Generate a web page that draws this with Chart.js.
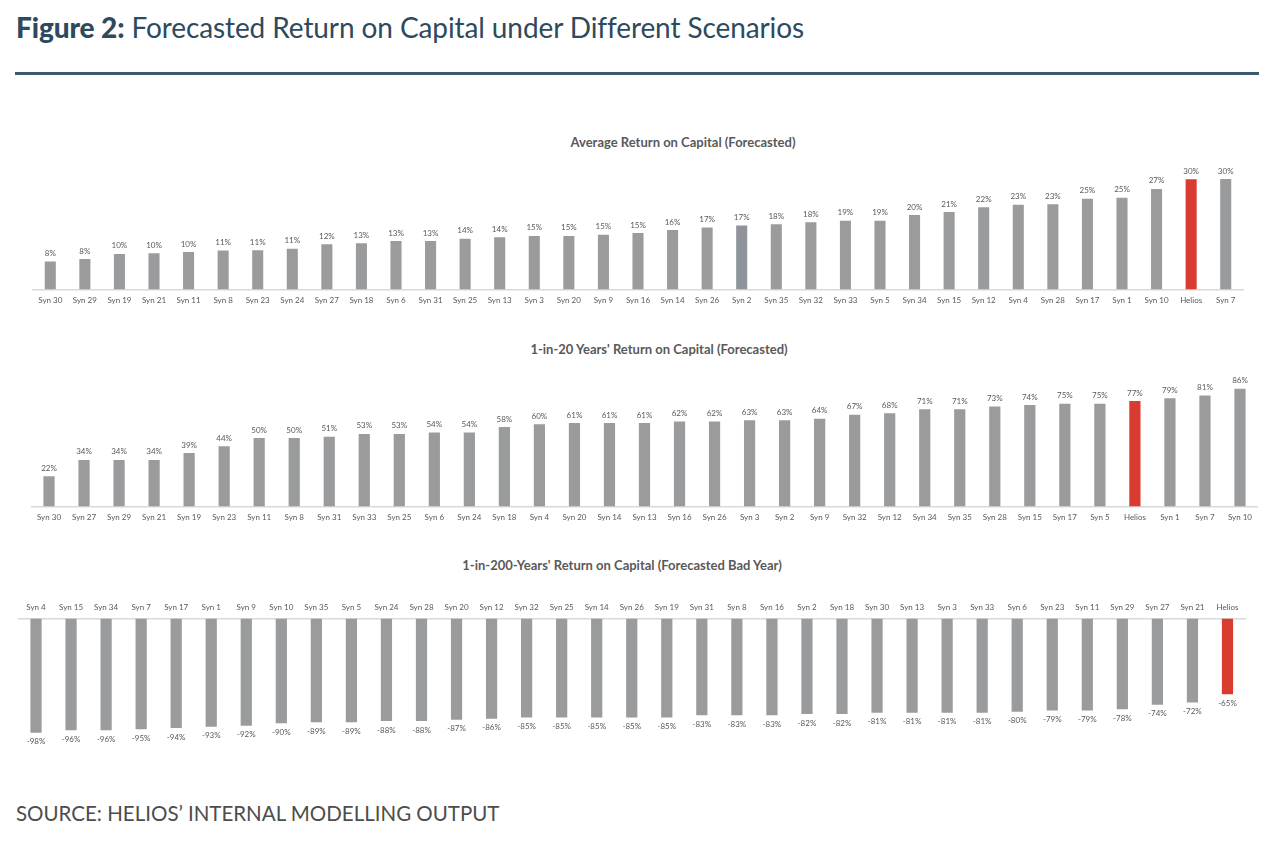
<!DOCTYPE html>
<html><head><meta charset="utf-8">
<script src="https://cdn.jsdelivr.net/npm/chart.js@4/dist/chart.umd.min.js"></script>
<style>
body{margin:0;width:1280px;height:845px;background:#fff;position:relative;overflow:hidden;font-family:Lato,"Open Sans",sans-serif}
#title{position:absolute;left:16px;top:10px;font-size:28px;color:#2d4a5e;white-space:nowrap;letter-spacing:-0.1px}
#title b{font-weight:900}
#rule{position:absolute;left:15px;top:72px;width:1244px;height:3px;background:#3c5a6d}
.ctitle{position:absolute;font-weight:bold;font-size:13px;color:#595959;transform:translate(-50%,-50%);white-space:nowrap}
.box{position:absolute;left:0;width:1280px}
#src{position:absolute;left:16px;top:801px;font-size:20.5px;color:#4d4d4d;white-space:nowrap}
</style></head>
<body>
<div id="title"><b>Figure 2:</b> Forecasted Return on Capital under Different Scenarios</div>
<div id="rule"></div>
<div class="ctitle" style="left:683px;top:142px">Average Return on Capital (Forecasted)</div>
<div class="ctitle" style="left:659px;top:349px">1-in-20 Years' Return on Capital (Forecasted)</div>
<div class="ctitle" style="left:622px;top:565px">1-in-200-Years' Return on Capital (Forecasted Bad Year)</div>
<div class="box" id="b1" style="top:140px;height:175px"><canvas id="c1"></canvas></div>
<div class="box" id="b2" style="top:355px;height:175px"><canvas id="c2"></canvas></div>
<div class="box" id="b3" style="top:580px;height:175px"><canvas id="c3"></canvas></div>
<div id="src">SOURCE: HELIOS’ INTERNAL MODELLING OUTPUT</div>
<script>
const avgLabels = ['Syn 30','Syn 29','Syn 19','Syn 21','Syn 11','Syn 8','Syn 23','Syn 24','Syn 27','Syn 18','Syn 6','Syn 31','Syn 25','Syn 13','Syn 3','Syn 20','Syn 9','Syn 16','Syn 14','Syn 26','Syn 2','Syn 35','Syn 32','Syn 33','Syn 5','Syn 34','Syn 15','Syn 12','Syn 4','Syn 28','Syn 17','Syn 1','Syn 10','Helios','Syn 7'];
const avgValues = [7.6,8.3,9.7,9.9,10.2,10.6,10.7,11.1,12.3,12.6,13.2,13.2,13.8,14.2,14.6,14.6,14.9,15.4,16.2,16.9,17.4,17.8,18.3,18.7,18.7,20.3,21.1,22.4,23.1,23.2,24.7,25.0,27.4,30.0,30.1];

const y20Labels = ['Syn 30','Syn 27','Syn 29','Syn 21','Syn 19','Syn 23','Syn 11','Syn 8','Syn 31','Syn 33','Syn 25','Syn 6','Syn 24','Syn 18','Syn 4','Syn 20','Syn 14','Syn 13','Syn 16','Syn 26','Syn 3','Syn 2','Syn 9','Syn 32','Syn 12','Syn 34','Syn 35','Syn 28','Syn 15','Syn 17','Syn 5','Helios','Syn 1','Syn 7','Syn 10'];
const y20Values = [22,34,34,34,39,44,50,50,51,53,53,54,54,58,60,61,61,61,62,62,63,63,64,67,68,71,71,73,74,75,75,77,79,81,86];

const y200Labels = ['Syn 4','Syn 15','Syn 34','Syn 7','Syn 17','Syn 1','Syn 9','Syn 10','Syn 35','Syn 5','Syn 24','Syn 28','Syn 20','Syn 12','Syn 32','Syn 25','Syn 14','Syn 26','Syn 19','Syn 31','Syn 8','Syn 16','Syn 2','Syn 18','Syn 30','Syn 13','Syn 3','Syn 33','Syn 6','Syn 23','Syn 11','Syn 29','Syn 27','Syn 21','Helios'];
const y200Values = [-98,-96,-96,-95,-94,-93,-92,-90,-89,-89,-88,-88,-87,-86,-85,-85,-85,-85,-85,-83,-83,-83,-82,-82,-81,-81,-81,-81,-80,-79,-79,-78,-74,-72,-65];

const GREY = '#9a9b9d', RED = '#d93b30', TXT = '#595959';
const FONT = 'Lato, "Open Sans", sans-serif';

const valueLabels = {
  id: 'valueLabels',
  afterDatasetsDraw(chart) {
    const ctx = chart.ctx;
    const meta = chart.getDatasetMeta(0);
    const data = chart.data.datasets[0].data;
    ctx.save();
    ctx.font = '8px ' + FONT;
    ctx.fillStyle = TXT;
    ctx.textAlign = 'center';
    ctx.textBaseline = 'middle';
    meta.data.forEach((bar, i) => {
      const v = data[i];
      const y = v >= 0 ? bar.y - 8 : bar.y + 9;
      ctx.fillText(Math.round(v) + '%', bar.x, y);
    });
    ctx.restore();
  }
};

function makeChart(id, boxId, labels, values, opt) {
  const box = document.getElementById(boxId);
  const H = box.clientHeight, top = box.offsetTop;
  const tickPad = 6, axisH = 9.6 + 2 * tickPad;
  let pad;
  if (opt.position === 'bottom') {
    pad = {left: opt.left, right: 1280 - opt.right, top: opt.areaTop - top, bottom: H - (opt.areaBottom - top) - axisH};
  } else {
    pad = {left: opt.left, right: 1280 - opt.right, top: opt.areaTop - top - axisH, bottom: H - (opt.areaBottom - top)};
  }
  new Chart(document.getElementById(id), {
    type: 'bar',
    data: {
      labels: labels,
      datasets: [{
        data: values,
        backgroundColor: labels.map(l => l === 'Helios' ? RED : (opt.alt && l === opt.alt ? '#8f949b' : GREY)),
        barPercentage: 0.32,
        categoryPercentage: 1.0,
        borderWidth: 0
      }]
    },
    options: {
      responsive: true,
      maintainAspectRatio: false,
      animation: false,
      layout: {padding: pad},
      plugins: {legend: {display: false}, tooltip: {enabled: false}, title: {display: false}},
      scales: {
        x: {
          position: opt.position,
          grid: {display: false, drawTicks: false},
          border: {display: true, color: '#d9d9d9', width: 1.5},
          ticks: {autoSkip: false, maxRotation: 0, minRotation: 0, padding: tickPad, color: TXT, font: {family: FONT, size: 8}}
        },
        y: {display: false, min: opt.min, max: opt.max}
      }
    },
    plugins: [valueLabels]
  });
}

makeChart('c1', 'b1', avgLabels, avgValues, {position: 'bottom', left: 33, right: 1243, areaTop: 161, areaBottom: 289.5, min: 0, max: 35, alt: 'Syn 2'});
makeChart('c2', 'b2', y20Labels, y20Values, {position: 'bottom', left: 31.5, right: 1257.5, areaTop: 369.5, areaBottom: 506.5, min: 0, max: 100});
makeChart('c3', 'b3', y200Labels, y200Values, {position: 'top', left: 18.5, right: 1245, areaTop: 618.5, areaBottom: 735, min: -100, max: 0});
</script>
</body></html>
